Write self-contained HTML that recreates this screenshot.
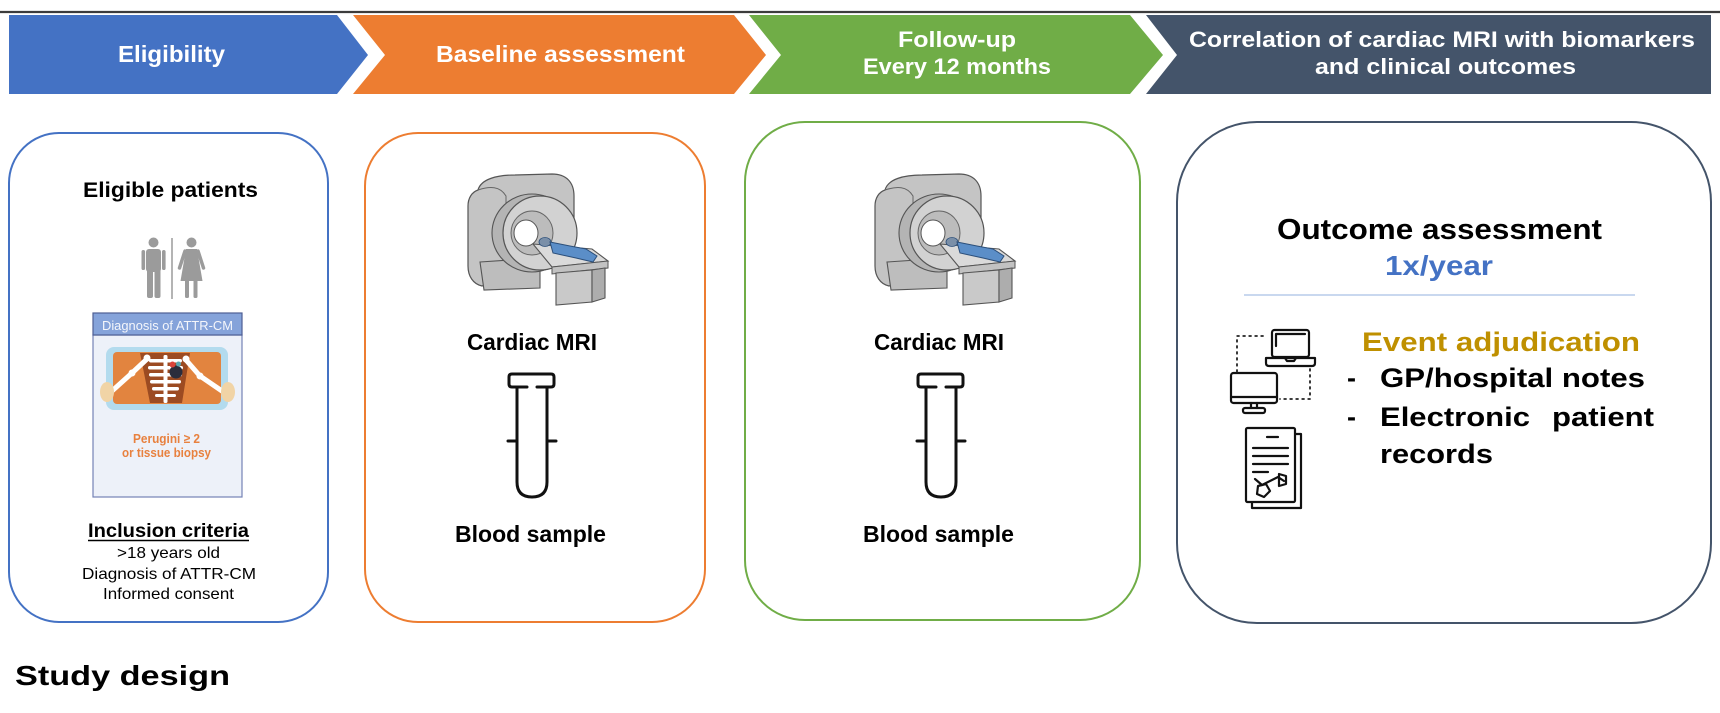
<!DOCTYPE html>
<html>
<head>
<meta charset="utf-8">
<style>
  html, body { margin:0; padding:0; background:#ffffff; }
  body { width:1720px; height:713px; overflow:hidden; }
  svg { display:block; }
  text { font-family: "Liberation Sans", Arial, sans-serif; font-weight:bold; }
</style>
</head>
<body>
<svg width="1720" height="713" viewBox="0 0 1720 713" xmlns="http://www.w3.org/2000/svg">
  <defs>
    <g id="mri">
      <!-- housing -->
      <path d="M478,190 C481,179 497,175 515,175 L552,174 C566,174 574,182 574,196 L574,262 L482,286 C473,284 468,276 468,266 L468,206 C468,198 472,192 478,190 Z" fill="#c4c4c4" stroke="#555" stroke-width="1.2"/>
      <path d="M478,190 C490,186 500,186 506,196 L506,272" fill="none" stroke="#666" stroke-width="1"/>
      <!-- base under housing -->
      <path d="M480,262 L540,258 L540,288 L484,290 Z" fill="#bdbdbd" stroke="#555" stroke-width="1.1"/>
      <!-- ring side -->
      <ellipse cx="532" cy="233" rx="40" ry="39" fill="#b4b4b4" stroke="#555" stroke-width="1.1"/>
      <!-- ring front -->
      <ellipse cx="540" cy="233" rx="37" ry="37" fill="#d2d2d2" stroke="#555" stroke-width="1.2"/>
      <ellipse cx="532" cy="233" rx="21" ry="22" fill="#bcbcbc" stroke="#666" stroke-width="1"/>
      <ellipse cx="526" cy="233" rx="12" ry="13" fill="#ffffff" stroke="#555" stroke-width="1"/>
      <!-- bed top -->
      <path d="M533,244 L592,249 L608,261 L552,267 Z" fill="#dadada" stroke="#555" stroke-width="1.1"/>
      <path d="M552,267 L608,261 L608,268 L552,274 Z" fill="#c2c2c2" stroke="#555" stroke-width="1"/>
      <!-- pedestal -->
      <path d="M556,273 L592,270 L592,302 L556,305 Z" fill="#c9c9c9" stroke="#555" stroke-width="1.1"/>
      <path d="M592,270 L605,268 L605,298 L592,302 Z" fill="#adadad" stroke="#555" stroke-width="1.1"/>
      <!-- patient -->
      <ellipse cx="545" cy="242" rx="6" ry="4.5" fill="#7a8fa8" stroke="#2c4f7a" stroke-width="0.8"/>
      <path d="M550,242 L570,246 L586,249 L597,256 L593,262 L576,258 L553,253 Z" fill="#5b8ec8" stroke="#2c4f7a" stroke-width="1"/>
    </g>
    <g id="tube" fill="none" stroke="#111" stroke-width="3" stroke-linecap="round" stroke-linejoin="round">
      <path d="M527,387 L512,387 Q509,387 509,384 L509,377 Q509,374 512,374 L551,374 Q554,374 554,377 L554,384 Q554,387 551,387 L537,387"/>
      <path d="M517,387 L517,482 Q517,497 532,497 Q547,497 547,482 L547,387"/>
      <path d="M508,441 L517,441 M547,441 L556,441"/>
    </g>
  </defs>

  <!-- top rule -->
  <line x1="0" y1="12" x2="1720" y2="12" stroke="#3c3c3c" stroke-width="2.2"/>

  <!-- banners -->
  <polygon points="9,15 337,15 368,55 337,94 9,94" fill="#4472c4"/>
  <polygon points="353,15 734,15 766,55 734,94 353,94 385,55" fill="#ed7d31"/>
  <polygon points="749,15 1130,15 1163,55 1130,94 749,94 781,55" fill="#70ad47"/>
  <polygon points="1146,15 1711,15 1711,94 1146,94 1177,55" fill="#44546a"/>

  <text x="118" y="62" font-size="23" fill="#fff" textLength="107" lengthAdjust="spacingAndGlyphs">Eligibility</text>
  <text x="436" y="62" font-size="23" fill="#fff" textLength="249" lengthAdjust="spacingAndGlyphs">Baseline assessment</text>
  <text x="898" y="47" font-size="22" fill="#fff" textLength="118" lengthAdjust="spacingAndGlyphs">Follow-up</text>
  <text x="863" y="74" font-size="22" fill="#fff" textLength="188" lengthAdjust="spacingAndGlyphs">Every 12 months</text>
  <text x="1189" y="47" font-size="22" fill="#fff" textLength="506" lengthAdjust="spacingAndGlyphs">Correlation of cardiac MRI with biomarkers</text>
  <text x="1315" y="74" font-size="22" fill="#fff" textLength="261" lengthAdjust="spacingAndGlyphs">and clinical outcomes</text>

  <!-- cards -->
  <rect x="9" y="133" width="319" height="489" rx="50" ry="50" fill="none" stroke="#4472c4" stroke-width="2"/>
  <rect x="365" y="133" width="340" height="489" rx="53" ry="53" fill="none" stroke="#ed7d31" stroke-width="2"/>
  <rect x="745" y="122" width="395" height="498" rx="60" ry="60" fill="none" stroke="#70ad47" stroke-width="2"/>
  <rect x="1177" y="122" width="534" height="501" rx="80" ry="80" fill="none" stroke="#44546a" stroke-width="2"/>

  <!-- Card 1 -->
  <text x="83" y="197" font-size="21" fill="#000" textLength="175" lengthAdjust="spacingAndGlyphs">Eligible patients</text>

  <!-- people -->
  <g fill="#9b9b9b">
    <circle cx="153.5" cy="242.5" r="5"/>
    <rect x="146" y="249" width="15" height="23" rx="3"/>
    <rect x="141.5" y="250" width="3.6" height="20" rx="1.8"/>
    <rect x="162" y="250" width="3.6" height="20" rx="1.8"/>
    <rect x="147" y="268" width="6" height="30" rx="2"/>
    <rect x="154.5" y="268" width="6" height="30" rx="2"/>
    <circle cx="191.5" cy="242.5" r="5"/>
    <path d="M186,249 L197,249 L202.5,281 L180.5,281 Z"/>
    <rect x="185" y="279" width="4" height="19" rx="1.5"/>
    <rect x="193.5" y="279" width="4" height="19" rx="1.5"/>
  </g>
  <g stroke="#9b9b9b" stroke-width="3.5" stroke-linecap="round">
    <line x1="185" y1="251" x2="179.5" y2="268"/>
    <line x1="198" y1="251" x2="203.5" y2="268"/>
  </g>
  <line x1="172" y1="238" x2="172" y2="299" stroke="#9b9b9b" stroke-width="1.5"/>

  <!-- Diagnosis box -->
  <rect x="93" y="335" width="149" height="162" fill="#edf1f9" stroke="#7483b6" stroke-width="1.2"/>
  <rect x="93" y="313" width="149" height="22" fill="#85a3da" stroke="#4e5e94" stroke-width="1.2"/>
  <text x="102" y="330" font-size="13" font-weight="normal" style="font-weight:normal" fill="#f4f6fb" textLength="131" lengthAdjust="spacingAndGlyphs">Diagnosis of ATTR-CM</text>

  <!-- x-ray -->
  <rect x="106" y="347" width="122" height="63" rx="8" fill="#b3dbee"/>
  <rect x="113" y="352" width="108" height="52" rx="4" fill="#e2843f"/>
  <path d="M140,353 L190,353 L182,403 L150,403 Z" fill="#9c4b22"/>
  <g fill="#ffffff">
    <rect x="149" y="359" width="33" height="3.5" rx="1.7"/>
    <rect x="148" y="366" width="35" height="3.5" rx="1.7"/>
    <rect x="149" y="373" width="33" height="3.5" rx="1.7"/>
    <rect x="150" y="380" width="31" height="3.5" rx="1.7"/>
    <rect x="152" y="387" width="27" height="3.5" rx="1.7"/>
    <rect x="155" y="394" width="21" height="3" rx="1.5"/>
    <rect x="163.5" y="355" width="4" height="48" rx="1.5"/>
  </g>
  <g stroke="#ffffff" stroke-width="5" stroke-linecap="round" fill="none">
    <polyline points="147,359 132,373 112,391"/>
    <polyline points="186,360 200,376 222,391"/>
  </g>
  <g fill="#ffffff">
    <circle cx="132" cy="373" r="3.5"/>
    <circle cx="200" cy="376" r="3.5"/>
    <circle cx="147" cy="358" r="3.5"/>
    <circle cx="186" cy="359" r="3.5"/>
  </g>
  <circle cx="176" cy="372" r="6.5" fill="#2b2d3c"/>
  <circle cx="172.5" cy="364.5" r="3" fill="#d9433a"/>
  <circle cx="178.5" cy="364" r="2.5" fill="#5aa6b0"/>
  <ellipse cx="107" cy="392" rx="7" ry="10" fill="#f1d4a6"/>
  <ellipse cx="228" cy="392" rx="7" ry="10" fill="#f1d4a6"/>

  <text x="133" y="443" font-size="13" fill="#e8813f" textLength="67" lengthAdjust="spacingAndGlyphs">Perugini ≥ 2</text>
  <text x="122" y="457" font-size="13" fill="#e8813f" textLength="89" lengthAdjust="spacingAndGlyphs">or tissue biopsy</text>

  <text x="88" y="537" font-size="19" fill="#000" textLength="161" lengthAdjust="spacingAndGlyphs">Inclusion criteria</text>
  <line x1="88" y1="540.5" x2="249" y2="540.5" stroke="#000" stroke-width="1.5"/>
  <text x="117" y="558" font-size="16" style="font-weight:normal" fill="#000" textLength="103" lengthAdjust="spacingAndGlyphs">&gt;18 years old</text>
  <text x="82" y="579" font-size="16" style="font-weight:normal" fill="#000" textLength="174" lengthAdjust="spacingAndGlyphs">Diagnosis of ATTR-CM</text>
  <text x="103" y="599" font-size="16" style="font-weight:normal" fill="#000" textLength="131" lengthAdjust="spacingAndGlyphs">Informed consent</text>

  <!-- Card 2 -->
  <use href="#mri"/>
  <text x="467" y="350" font-size="23" fill="#000" textLength="130" lengthAdjust="spacingAndGlyphs">Cardiac MRI</text>
  <use href="#tube"/>
  <text x="455" y="542" font-size="23" fill="#000" textLength="151" lengthAdjust="spacingAndGlyphs">Blood sample</text>

  <!-- Card 3 -->
  <use href="#mri" transform="translate(407,0)"/>
  <text x="874" y="350" font-size="23" fill="#000" textLength="130" lengthAdjust="spacingAndGlyphs">Cardiac MRI</text>
  <use href="#tube" transform="translate(409,0)"/>
  <text x="863" y="542" font-size="23" fill="#000" textLength="151" lengthAdjust="spacingAndGlyphs">Blood sample</text>

  <!-- Card 4 -->
  <text x="1277" y="239" font-size="29" fill="#000" textLength="325" lengthAdjust="spacingAndGlyphs">Outcome assessment</text>
  <text x="1385" y="275" font-size="28" fill="#4472c4" textLength="108" lengthAdjust="spacingAndGlyphs">1x/year</text>
  <line x1="1244" y1="295" x2="1635" y2="295" stroke="#c9d8ef" stroke-width="2"/>

  <text x="1362" y="351" font-size="27" fill="#bf9000" textLength="278" lengthAdjust="spacingAndGlyphs">Event adjudication</text>
  <text x="1347" y="387" font-size="27" fill="#000">-</text>
  <text x="1380" y="387" font-size="27" fill="#000" textLength="265" lengthAdjust="spacingAndGlyphs">GP/hospital notes</text>
  <text x="1347" y="426" font-size="27" fill="#000">-</text>
  <text x="1380" y="426" font-size="27" fill="#000" textLength="150" lengthAdjust="spacingAndGlyphs">Electronic</text>
  <text x="1552" y="426" font-size="27" fill="#000" textLength="102" lengthAdjust="spacingAndGlyphs">patient</text>
  <text x="1380" y="463" font-size="27" fill="#000" textLength="113" lengthAdjust="spacingAndGlyphs">records</text>

  <!-- computers icon -->
  <g fill="none" stroke="#111" stroke-width="2.2" stroke-linejoin="round" stroke-linecap="round">
    <rect x="1272" y="330" width="37" height="27" rx="2.5"/>
    <polyline points="1276,346 1276,334 1305,334"/>
    <path d="M1266,358 L1315,358 L1315,363 Q1315,366 1312,366 L1269,366 Q1266,366 1266,363 Z"/>
    <path d="M1285,358 L1287,361 L1294,361 L1296,358"/>
    <rect x="1231" y="373" width="46" height="30" rx="2.5"/>
    <line x1="1231" y1="397" x2="1277" y2="397"/>
    <line x1="1251" y1="403" x2="1251" y2="408"/>
    <line x1="1257" y1="403" x2="1257" y2="408"/>
    <rect x="1243" y="408" width="22" height="5" rx="2"/>
  </g>
  <g fill="none" stroke="#222" stroke-width="1.8" stroke-dasharray="1.8 4.2" stroke-linecap="round">
    <polyline points="1263,336 1237,336 1237,372"/>
    <polyline points="1310,369 1310,399 1280,399"/>
  </g>

  <!-- document icon -->
  <g fill="none" stroke="#111" stroke-width="2.2" stroke-linejoin="round" stroke-linecap="round">
    <path d="M1295,434 L1301,434 L1301,508 L1252,508 L1252,502"/>
    <rect x="1246" y="428" width="49" height="74" rx="1.5" fill="#fff"/>
    <line x1="1267" y1="437" x2="1278" y2="437"/>
    <line x1="1253" y1="448" x2="1288" y2="448"/>
    <line x1="1253" y1="456" x2="1288" y2="456"/>
    <line x1="1253" y1="464" x2="1288" y2="464"/>
    <line x1="1253" y1="472" x2="1268" y2="472"/>
    <polyline points="1255,479 1262,485 1270,481 1278,477 1284,481"/>
    <path d="M1258,486 L1266,484 L1270,491 L1264,497 L1257,494 Z"/>
    <path d="M1279,474 L1286,476 L1286,484 L1279,486 Z"/>
  </g>

  <!-- footer -->
  <text x="15" y="685" font-size="28" fill="#000" textLength="215" lengthAdjust="spacingAndGlyphs">Study design</text>
</svg>
</body>
</html>
